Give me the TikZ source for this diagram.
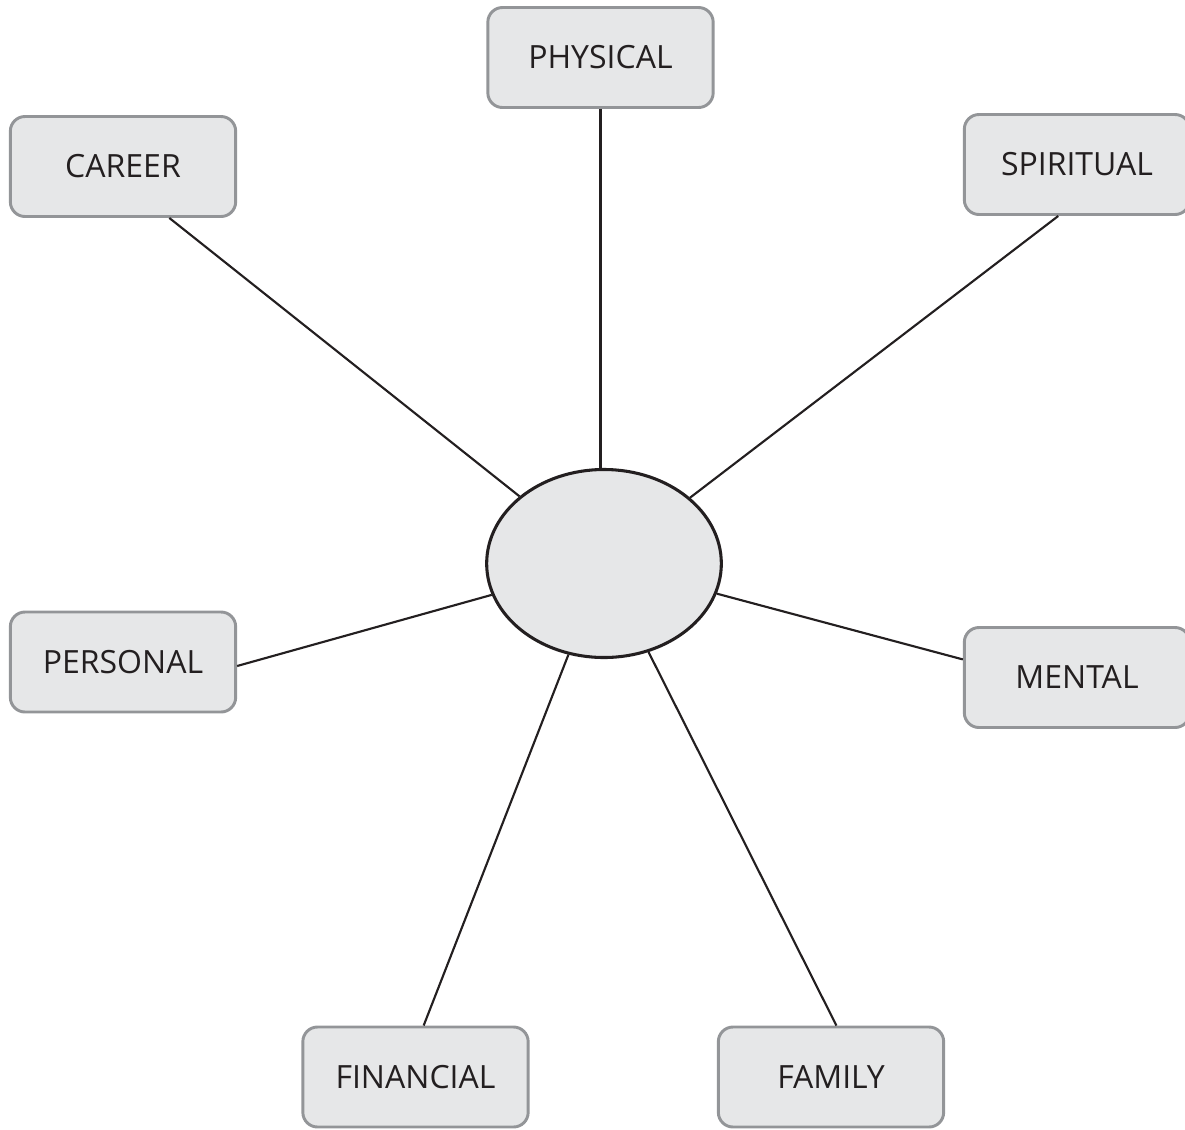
\documentclass[tikz,border=0pt]{standalone}
\usepackage{fontspec}
\setmainfont{Open Sans}
\usetikzlibrary{shapes.geometric}

\tikzset{every picture/.style={line width=0.75pt}}
\tikzset{
  area/.style={draw={rgb, 255:red, 147; green, 149; blue, 152 }, line width=2.2pt, fill={rgb, 255:red, 230; green, 231; blue, 232 }, rounded corners=11pt, minimum width=169pt, minimum height=75pt, inner sep=0pt, font=\fontsize{24}{28}\selectfont, text={rgb, 255:red, 35; green, 31; blue, 32 }},
  hub/.style={ellipse, draw={rgb, 255:red, 35; green, 31; blue, 32 }, line width=2.3pt, fill={rgb, 255:red, 230; green, 231; blue, 232 }, minimum width=176pt, minimum height=141pt, inner sep=0pt},
  spoke/.style={draw={rgb, 255:red, 35; green, 31; blue, 32 }, line width=1.6pt}
}

\begin{document}
\begin{tikzpicture}[x=0.75pt,y=0.75pt,yscale=-1,xscale=1]
\useasboundingbox (0,0) rectangle (1185,1129);

%Shape: Rounded Rect
\node [area] (physical) at (600.5,57.5) {PHYSICAL};
\node [area] (career) at (123,166.5) {CAREER};
\node [area] (spiritual) at (1077,164.5) {SPIRITUAL};
\node [area] (personal) at (123,662) {PERSONAL};
\node [area] (mental) at (1077,677.5) {MENTAL};
\node [area] (financial) at (415.5,1077) {FINANCIAL};
\node [area] (family) at (831,1077) {FAMILY};
%Shape: Ellipse
\node [hub] (self) at (604,563.5) {};

%Straight Lines
\draw [spoke] (physical.south) -- (physical.south |- self.north) ;
\draw [spoke] (self) -- (career.-48) ;
\draw [spoke] (self) -- (spiritual.-110) ;
\draw [spoke] (self) -- (personal.-2) ;
\draw [spoke] (self) -- (mental.171) ;
\draw [spoke] (self) -- (financial.81) ;
\draw [spoke] (self) -- (family.84) ;

\end{tikzpicture}
\end{document}
